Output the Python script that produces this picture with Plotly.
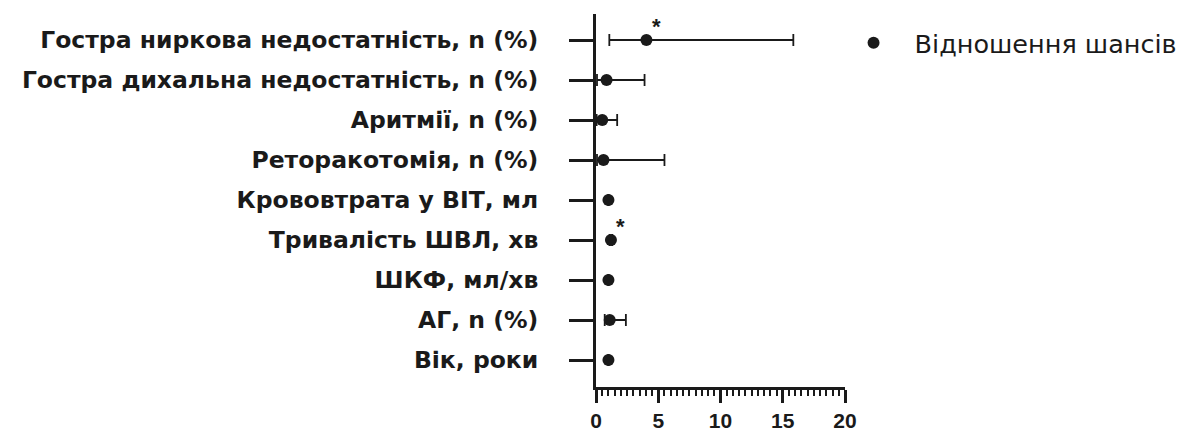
import plotly.graph_objects as go

categories = [
    "Гостра ниркова недостатність, n (%)",
    "Гостра дихальна недостатність, n (%)",
    "Аритмії, n (%)",
    "Реторакотомія, n (%)",
    "Крововтрата у ВІТ, мл",
    "Тривалість ШВЛ, хв",
    "ШКФ, мл/хв",
    "АГ, n (%)",
    "Вік, роки",
]
odds_ratio = [4.05, 0.85, 0.5, 0.6, 1.0, 1.2, 1.0, 1.1, 1.0]
ci_low = [1.07, 0.08, 0.05, 0.08, 0.98, 1.1, 0.98, 0.7, 0.98]
ci_high = [15.85, 3.9, 1.7, 5.5, 1.02, 1.3, 1.02, 2.4, 1.02]
significant = [True, False, False, False, False, True, False, False, False]
x_ticks = [0, 5, 10, 15, 20]
legend_name = "Відношення шансів"

FONT = "DejaVu Sans, sans-serif"
TICK_FONT = "Liberation Sans, Arial, sans-serif"
INK = "#1a1a1a"

fig = go.Figure()
fig.add_trace(go.Scatter(
    x=odds_ratio,
    y=categories,
    mode="markers",
    name=legend_name,
    marker=dict(color=INK, size=12, symbol="circle"),
    error_x=dict(
        type="data",
        symmetric=False,
        array=[h - o for h, o in zip(ci_high, odds_ratio)],
        arrayminus=[o - l for o, l in zip(odds_ratio, ci_low)],
        color=INK,
        thickness=1.8,
        width=6,
    ),
    showlegend=True,
    cliponaxis=False,
))

for cat, o, s in zip(categories, odds_ratio, significant):
    if s:
        fig.add_annotation(
            x=o, y=cat, text="*", showarrow=False,
            xshift=10, yshift=14,
            font=dict(family=TICK_FONT, size=22, color=INK, weight="bold"),
        )

fig.update_layout(
    width=1184, height=432,
    margin=dict(l=596, r=339, t=14, b=45, autoexpand=False),
    paper_bgcolor="white",
    plot_bgcolor="white",
    font=dict(family=FONT, color=INK),
    legend=dict(
        x=0.95, y=0.985, xanchor="left", yanchor="top",
        font=dict(family=FONT, size=25.5, color=INK),
        bgcolor="rgba(0,0,0,0)",
        itemsizing="constant",
        itemwidth=72,
    ),
    xaxis=dict(
        range=[0, 20],
        tickvals=x_ticks,
        ticktext=[str(v) for v in x_ticks],
        showgrid=False, zeroline=False,
        showline=True, linecolor=INK, linewidth=3,
        ticks="outside", ticklen=13, tickwidth=2.5, tickcolor=INK,
        ticklabelstandoff=0,
        tickfont=dict(family=TICK_FONT, size=21, color=INK, weight="bold"),
        minor=dict(dtick=0.5, tick0=0, ticks="outside", ticklen=6,
                   tickwidth=1.5, tickcolor=INK, showgrid=False),
        automargin=False,
        fixedrange=True,
    ),
    yaxis=dict(
        type="category",
        categoryorder="array",
        categoryarray=categories,
        range=[8.675, -0.65],
        showgrid=False, zeroline=False,
        showline=True, linecolor=INK, linewidth=3,
        ticks="outside", ticklen=24, tickwidth=3, tickcolor=INK,
        ticklabelstandoff=26,
        tickfont=dict(family=FONT, size=23.5, color=INK, weight="bold"),
        automargin=False,
        fixedrange=True,
    ),
)

fig.write_html(
    "out.html",
    config={"displayModeBar": False},
    post_script="document.body.style.margin='0px';document.body.style.overflow='hidden';",
)
